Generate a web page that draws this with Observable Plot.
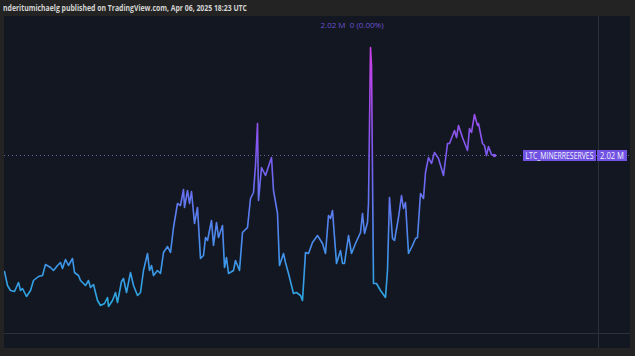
<!DOCTYPE html>
<html><head><meta charset="utf-8">
<script src="https://cdn.jsdelivr.net/npm/d3@7"></script>
<script src="https://cdn.jsdelivr.net/npm/@observablehq/plot@0.6"></script>
<style>
html,body{margin:0;padding:0;background:#232323;width:635px;height:356px;overflow:hidden;font-family:"Open Sans",sans-serif}
#hdr{position:absolute;left:3px;top:2px;font-size:9px;line-height:12px;font-weight:700;color:#d4d4d4;white-space:nowrap;transform-origin:0 50%}
#panel{position:absolute;left:4px;top:16px;width:626px;height:332px;background:#131722;overflow:hidden}
#vsep{position:absolute;left:594px;top:0;width:1px;height:332px;background:#2c3039}
#hsep{position:absolute;left:0;top:317px;width:626px;height:1px;background:#2c3039}
#chart{position:absolute;left:0;top:0}
#legend{position:absolute;left:0;width:696px;top:3px;text-align:center;font-size:8px;line-height:11px;color:#6a52cf;white-space:nowrap}
.box{position:absolute;height:11px;background:#7152e2}
.txt{position:absolute;left:0;top:0;font-size:8.5px;line-height:11px;color:#f2f0ff;white-space:nowrap;transform-origin:0 50%}
</style></head>
<body>
<div id="hdr">nderitumichaelg published on TradingView.com, Apr 06, 2025 18:23 UTC</div>
<div id="panel">
  <div id="chart"></div>
  <div id="vsep"></div>
  <div id="hsep"></div>
  <div id="legend"></div>
</div>
<script>
// LTC miner reserves (millions)
const t = [0,3,6,10,14,16,18,22,26,29,34,38,41,46,49,53,56,58,61,64,68,70,74,76,81,84,86,89,93,96,100,103,104,108,111,113,117,119,122,126,129,133,136,139,143,145,147,149,153,156,159,163,166,169,173,176,179,180,183,185,187,190,193,196,199,201,203,207,209,212,214,218,220,222,224,229,231,235,238,243,246,249,251,253,254,257,261,267,269,273,275,279,281,284,289,292,296,298,301,304,308,313,318,321,324,326,328,332,336,338,340,344,347,351,356,358,360,363,364,366,367,369,372,376,381,383,385,388,390,394,397,399,401,404,408,411,413,416,419,421,424,427,430,434,439,443,445,450,452,454,458,463,465,467,470,473,474,478,480,482,484,487,490];
const v = [1.788,1.760,1.750,1.748,1.766,1.750,1.754,1.738,1.750,1.770,1.778,1.780,1.802,1.796,1.790,1.800,1.806,1.794,1.812,1.800,1.814,1.786,1.780,1.770,1.760,1.770,1.756,1.762,1.730,1.720,1.724,1.736,1.718,1.730,1.746,1.726,1.768,1.774,1.746,1.786,1.760,1.740,1.746,1.790,1.824,1.790,1.800,1.780,1.790,1.784,1.826,1.838,1.826,1.876,1.924,1.920,1.952,1.916,1.950,1.924,1.948,1.884,1.916,1.814,1.820,1.856,1.850,1.890,1.840,1.886,1.856,1.880,1.796,1.816,1.784,1.790,1.810,1.790,1.866,1.876,1.934,1.946,2.000,2.084,1.930,1.996,1.980,2.016,1.950,1.904,1.800,1.824,1.806,1.784,1.744,1.746,1.740,1.730,1.826,1.824,1.846,1.860,1.844,1.824,1.900,1.894,1.910,1.804,1.830,1.804,1.804,1.860,1.824,1.844,1.866,1.904,1.864,1.886,1.924,2.236,2.200,1.764,1.764,1.750,1.736,1.790,1.936,1.854,1.850,1.896,1.940,1.914,1.926,1.824,1.840,1.854,1.856,1.944,1.934,1.986,2.016,2.004,2.026,2.014,1.980,2.044,2.044,2.070,2.056,2.080,2.056,2.030,2.074,2.066,2.102,2.080,2.084,2.044,2.040,2.020,2.038,2.022,2.020];
const seriesName = "LTC_MINERRESERVES";
const lastLabel = "2.02 M";
const legendText = "2.02 M\u00a0\u00a00 (0.00%)";
const gradStops = [[1.72,"#2aa9e0"],[1.80,"#3c98ea"],[1.90,"#5a7ef0"],[2.02,"#7b5af0"],[2.236,"#cc3ee6"]];

const data = t.map((d,i)=>({t:d, v:v[i]}));
const last = data[data.length-1];

const gradient = (index, scales) => {
  const ns = "http://www.w3.org/2000/svg";
  const defs = document.createElementNS(ns,"defs");
  const g = document.createElementNS(ns,"linearGradient");
  g.setAttribute("id","grad");
  g.setAttribute("gradientUnits","userSpaceOnUse");
  g.setAttribute("x1",0); g.setAttribute("x2",0);
  const lo = gradStops[0][0], hi = gradStops[gradStops.length-1][0];
  g.setAttribute("y1",scales.y(lo)); g.setAttribute("y2",scales.y(hi));
  for (const [val,col] of gradStops) {
    const s = document.createElementNS(ns,"stop");
    s.setAttribute("offset",(val-lo)/(hi-lo));
    s.setAttribute("stop-color",col);
    g.appendChild(s);
  }
  defs.appendChild(g);
  return defs;
};

const plot = Plot.plot({
  width: 626, height: 332,
  marginLeft: 0, marginRight: 0, marginTop: 0, marginBottom: 0,
  style: {background: "transparent", overflow: "visible"},
  x: {domain: [0, 626], axis: null},
  y: {domain: [1.634, 2.298], axis: null},
  marks: [
    gradient,
    Plot.ruleY([last.v], {stroke: "#8a7fc0", strokeOpacity: 0.75, strokeDasharray: "1,3"}),
    Plot.line(data, {x: "t", y: "v", stroke: "url(#grad)", strokeWidth: 1.6, curve: "linear"}),
    Plot.dot([last], {x: "t", y: "v", r: 1.7, fill: "#8a5cf0"})
  ]
});
document.getElementById("chart").appendChild(plot);

document.getElementById("legend").textContent = legendText;

const yPos = plot.scale("y").apply(last.v);
const panel = document.getElementById("panel");
function addBox(left, width, text, tw) {
  const b = document.createElement("div");
  b.className = "box";
  b.style.left = left + "px"; b.style.width = width + "px";
  b.style.top = (yPos - 5.5) + "px";
  const s = document.createElement("span");
  s.className = "txt"; s.textContent = text;
  b.appendChild(s); panel.appendChild(b);
  const w = s.getBoundingClientRect().width;
  s.style.transform = `translateX(${(width - tw)/2}px) scaleX(${tw / w})`;
}
addBox(519, 73, seriesName, 68);
addBox(593, 30, lastLabel, 24);

const hdr = document.getElementById("hdr");
const hw = hdr.getBoundingClientRect().width;
hdr.style.transform = `scaleX(${244 / hw})`;
</script>
</body></html>
